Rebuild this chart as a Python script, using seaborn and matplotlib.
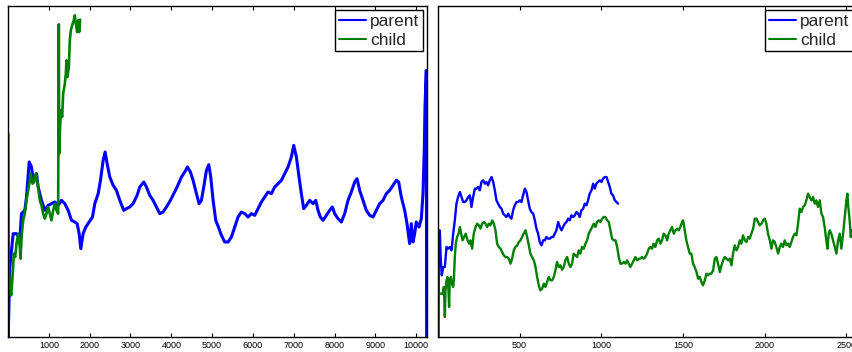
import matplotlib
matplotlib.use("Agg")
import matplotlib.pyplot as plt
import seaborn as sns
import pandas as pd

# ---------------- data ----------------
left_parent_x = [0, 5, 45, 127, 208, 290, 331, 412, 453, 519, 576, 616, 698, 739, 820, 902, 984, 1065,
                 1147, 1228, 1310, 1392, 1473, 1555, 1636, 1694, 1743, 1783, 1840, 1906, 1987, 2069,
                 2126, 2208, 2265, 2330, 2379, 2428, 2493, 2575, 2656, 2738, 2836, 2901, 2983, 3064,
                 3162, 3228, 3326, 3391, 3472, 3554, 3636, 3717, 3799, 3880, 3978, 4060, 4142, 4248,
                 4329, 4395, 4468, 4533, 4615, 4680, 4737, 4794, 4860, 4917, 4966, 5023, 5088, 5153,
                 5227, 5308, 5390, 5472, 5553, 5635, 5716, 5798, 5880, 5961, 6043, 6124, 6206, 6288,
                 6369, 6451, 6532, 6614, 6696, 6777, 6859, 6940, 6998, 7063, 7128, 7185, 7242, 7308,
                 7389, 7471, 7536, 7593, 7650, 7716, 7797, 7879, 7944, 8001, 8083, 8164, 8246, 8328,
                 8409, 8491, 8548, 8613, 8695, 8776, 8858, 8940, 9021, 9103, 9184, 9266, 9348, 9429,
                 9511, 9568, 9633, 9715, 9772, 9837, 9878, 9919, 9960, 10000, 10066, 10123, 10164,
                 10197, 10213, 10245, 10253]
left_parent_y = [610, 0, 210, 310, 310, 295, 370, 380, 420, 525, 510, 470, 490, 450, 410, 380, 395, 400,
                 405, 395, 410, 400, 380, 350, 345, 340, 310, 265, 310, 330, 345, 360,
                 400, 430, 470, 530, 555, 520, 480, 455, 440, 410, 380, 385, 390, 400,
                 425, 450, 465, 450, 425, 410, 390, 370, 375, 390, 410, 430, 450, 480,
                 495, 510, 495, 470, 430, 400, 410, 450, 500, 517, 480, 410, 350, 330,
                 305, 285, 285, 300, 330, 360, 375, 370, 360, 370, 365, 385, 405, 420,
                 435, 430, 450, 460, 470, 490, 510, 540, 575, 540, 480, 430, 385, 395,
                 410, 400, 410, 380, 360, 350, 365, 380, 390, 370, 355, 345, 370, 410,
                 435, 465, 475, 440, 410, 380, 365, 360, 380, 400, 410, 430, 440, 455,
                 470, 465, 420, 380, 340, 280, 340, 285, 310, 345, 330, 355, 430,
                 570, 690, 800, 0]

left_child_x = [0, 16, 45, 78, 111, 143, 176, 208, 249, 290, 306, 339, 372, 412, 453, 494, 535, 559,
                600, 641, 682, 714, 747, 780, 820, 861, 902, 943, 984, 1024, 1065, 1106, 1147, 1188,
                1228, 1245, 1253, 1269, 1294, 1326, 1351, 1392, 1416, 1432, 1457, 1490, 1514, 1539,
                1571, 1612, 1636, 1661, 1694, 1718, 1743, 1767]
left_child_y = [385, 210, 160, 125, 180, 250, 240, 280, 310, 270, 235, 310, 350, 370, 410, 440, 470, 490,
                460, 465, 490, 470, 440, 410, 395, 370, 355, 370, 390, 370, 350, 380, 400, 380,
                370, 938, 550, 610, 680, 660, 730, 760, 790, 830, 780, 810, 890, 920,
                935, 950, 965, 940, 915, 950, 915, 952]

right_parent_x = [3, 5, 11, 17, 23, 32, 42, 52, 62, 72, 83, 93, 103, 113, 123, 134, 144, 154, 164, 174,
                  185, 195, 205, 215, 226, 236, 246, 256, 266, 277, 287, 297, 307, 317, 328, 338, 348,
                  358, 368, 379, 389, 399, 409, 419, 430, 440, 450, 460, 470, 481, 491, 501, 511, 521,
                  532, 542, 552, 562, 572, 583, 593, 603, 613, 623, 634, 644, 654, 664, 674, 685, 695,
                  705, 715, 725, 736, 746, 756, 766, 776, 787, 797, 807, 817, 827, 838, 848, 858, 868,
                  878, 889, 899, 909, 919, 929, 940, 950, 960, 970, 980, 991, 1001, 1011, 1021, 1032,
                  1042, 1052, 1062, 1072, 1083, 1093, 1103]
right_parent_y = [0, 320, 320, 230, 185, 210, 210, 270, 265, 270, 260, 310, 350, 400, 420, 435, 420, 405,
                  405, 410, 420, 425, 390, 420, 445, 445, 450, 440, 465, 470, 460, 465, 455, 470, 480,
                  465, 440, 410, 400, 390, 385, 370, 365, 360, 370, 360, 355, 380, 395, 405, 405, 410,
                  405, 425, 445, 435, 410, 385, 375, 370, 350, 325, 310, 285, 275, 290, 290, 300, 295,
                  295, 300, 300, 310, 320, 345, 330, 320, 330, 340, 345, 355, 350, 365, 360, 365, 375,
                  370, 360, 380, 385, 400, 395, 410, 430, 440, 460, 445, 460, 465, 470, 465, 475, 480,
                  480, 465, 450, 430, 425, 410, 405, 400]

right_child_x = [3, 28, 36, 42, 46, 52, 58, 64, 68, 72, 79, 85, 93, 97, 103, 109, 117, 126, 134, 142, 150,
                 160, 170, 181, 191, 199, 209, 219, 230, 240, 250, 260, 270, 281, 291, 301, 311, 321,
                 332, 342, 352, 362, 372, 383, 393, 403, 413, 423, 434, 444, 454, 464, 474, 485, 495,
                 505, 515, 525, 536, 546, 556, 566, 576, 587, 597, 607, 617, 627, 638, 648, 658, 668,
                 678, 689, 699, 709, 719, 729, 740, 750, 760, 770, 780, 791, 801, 811, 821, 831, 842,
                 852, 862, 872, 882, 893, 903, 913, 923, 934, 944, 954, 964, 974, 985, 995, 1005, 1015,
                 1025, 1036, 1046, 1056, 1066, 1076, 1087, 1097, 1107, 1117, 1127, 1138, 1148, 1158,
                 1168, 1178, 1189, 1199, 1209, 1219, 1229, 1240, 1250, 1260, 1270, 1280, 1291, 1301,
                 1311, 1321, 1331, 1342, 1352, 1362, 1372, 1382, 1393, 1403, 1413, 1423, 1433, 1444,
                 1454, 1464, 1474, 1484, 1495, 1501, 1511, 1521, 1531, 1542, 1552, 1562, 1572, 1583,
                 1593, 1603, 1613, 1623, 1634, 1644, 1654, 1664, 1674, 1685, 1695, 1705, 1715, 1726,
                 1736, 1746, 1756, 1766, 1777, 1787, 1797, 1807, 1817, 1828, 1838, 1848, 1858, 1868,
                 1879, 1889, 1899, 1909, 1919, 1930, 1940, 1950, 1960, 1970, 1981, 1991, 2001, 2011,
                 2021, 2032, 2042, 2052, 2062, 2072, 2083, 2093, 2103, 2113, 2123, 2134, 2144, 2154,
                 2164, 2174, 2185, 2195, 2205, 2215, 2225, 2236, 2246, 2256, 2266, 2276, 2287, 2297,
                 2307, 2317, 2327, 2338, 2348, 2358, 2368, 2378, 2385, 2393, 2399, 2409, 2419, 2430,
                 2440, 2450, 2460, 2470, 2481, 2491, 2501, 2507, 2513, 2521, 2528, 2534]
right_child_y = [130, 130, 150, 60, 140, 170, 180, 140, 90, 170, 180, 160, 150, 170, 240, 280, 300, 310,
                 330, 310, 290, 300, 310, 290, 280, 290, 265, 310, 330, 340, 335, 325, 340, 345, 340,
                 330, 340, 335, 350, 340, 320, 280, 270, 265, 255, 245, 240, 240, 235, 220, 235, 260,
                 270, 275, 285, 290, 300, 310, 320, 300, 275, 250, 240, 230, 210, 180, 155, 140, 145,
                 160, 150, 165, 180, 170, 170, 180, 200, 225, 210, 215, 202, 210, 230, 240, 220, 210,
                 220, 250, 245, 240, 260, 250, 270, 265, 280, 290, 310, 320, 330, 340, 330, 345, 350,
                 345, 355, 360, 360, 350, 345, 320, 295, 290, 290, 270, 240, 220, 220, 225, 220, 230,
                 220, 210, 220, 230, 240, 230, 235, 235, 240, 235, 240, 250, 265, 270, 265, 280, 270,
                 290, 295, 280, 290, 310, 305, 290, 310, 320, 330, 310, 320, 325, 320, 330, 345, 350,
                 320, 290, 270, 250, 250, 220, 210, 195, 175, 180, 165, 155, 170, 190, 185, 190, 190,
                 200, 235, 240, 220, 195, 215, 230, 240, 235, 230, 235, 215, 250, 275, 260, 270, 290,
                 280, 305, 290, 285, 300, 295, 310, 325, 355, 355, 345, 335, 340, 350, 355, 340, 310,
                 290, 265, 290, 285, 270, 250, 270, 280, 270, 290, 275, 280, 270, 285, 300, 310, 305,
                 340, 385, 375, 390, 395, 410, 430, 420, 410, 420, 400, 410, 390, 410, 370, 360, 330,
                 290, 265, 310, 320, 310, 290, 270, 250, 290, 310, 265, 310, 360, 410, 430, 390, 350,
                 300, 320]

series_labels = ["parent", "child"]
left_ticks = [1000, 2000, 3000, 4000, 5000, 6000, 7000, 8000, 9000, 10000]
right_ticks = [500, 1000, 1500, 2000, 2500]

# ---------------- style ----------------
sns.set_theme(style="white")
plt.rcParams["font.family"] = ["Liberation Sans", "DejaVu Sans"]

BLUE = (0, 0, 1)
GREEN = (0, 0.5, 0)

fig = plt.figure(figsize=(8.52, 3.52), dpi=100)
W, H = 852, 352
ax1 = fig.add_axes([8 / W, 15 / H, 419 / W, 331 / H])
ax2 = fig.add_axes([438 / W, 15 / H, 419 / W, 331 / H])


def draw(ax, px, py, cx, cy, lw_p, lw_c):
    dp = pd.DataFrame({"x": px, "y": py})
    dc = pd.DataFrame({"x": cx, "y": cy})
    sns.lineplot(data=dp, x="x", y="y", ax=ax, color=BLUE, lw=lw_p,
                 estimator=None, sort=False, legend=False)
    sns.lineplot(data=dc, x="x", y="y", ax=ax, color=GREEN, lw=lw_c,
                 estimator=None, sort=False, legend=False)


draw(ax1, left_parent_x, left_parent_y, left_child_x, left_child_y, 2.2, 1.9)
draw(ax2, right_parent_x, right_parent_y, right_child_x, right_child_y, 1.7, 1.7)

ax1.set_xlim(0, 10262)
ax2.set_xlim(0, 2566)
ax1.set_xticks(left_ticks)
ax2.set_xticks(right_ticks)

for ax in (ax1, ax2):
    ax.set_ylim(0, 993)
    ax.set_yticks([])
    ax.set_xlabel("")
    ax.set_ylabel("")
    ax.tick_params(axis="x", direction="in", top=True, bottom=True, length=3,
                   width=0.8, color="black", labelsize=6.5, pad=3, labelcolor="black")
    for s in ax.spines.values():
        s.set_visible(True)
        s.set_color("black")
        s.set_linewidth(1.0)
    handles = ax.get_lines()[:2]
    leg = ax.legend(handles, series_labels, loc="upper right", fontsize=12.5,
                    frameon=True, fancybox=False, shadow=False, framealpha=1,
                    edgecolor="black", borderpad=0.2, labelspacing=0.22,
                    handlelength=1.55, handletextpad=0.25, borderaxespad=0.25)
    leg.get_frame().set_linewidth(1.0)
    for ln in leg.get_lines():
        ln.set_linewidth(1.5)

fig.savefig("out.png", dpi=100, facecolor="white")
